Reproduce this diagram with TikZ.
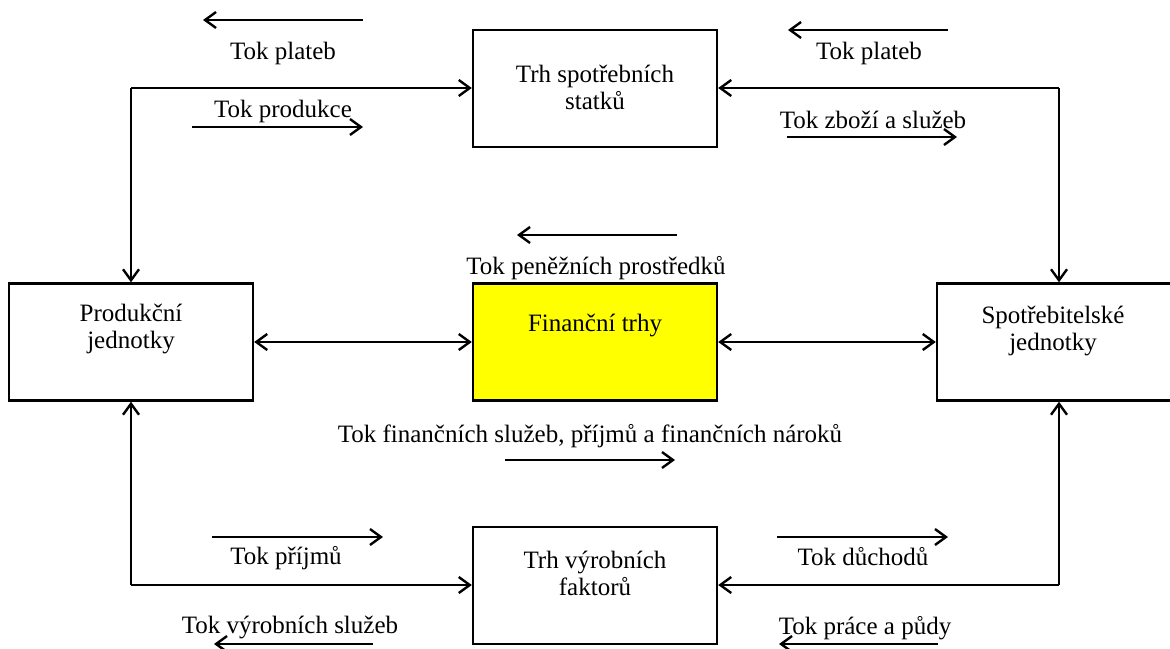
\documentclass[tikz,border=0pt]{standalone}
\usepackage{fontspec}
\setmainfont{Liberation Serif}
\usetikzlibrary{arrows.meta}
\definecolor{finyellow}{RGB}{255,255,0}
\begin{document}
\begin{tikzpicture}[x=0.5pt,y=-0.5pt,
  every node/.style={font=\fontsize{12.5}{13.5}\selectfont},
  box/.style={draw,line width=1.2pt,minimum width=122pt,minimum height=58.5pt,inner sep=0pt},
  lbl/.style={align=center,inner sep=0pt},
  tip/.tip={Straight Barb[length=5.5pt,width=8pt,line width=1.2pt]},
  conn/.style={line width=1.2pt,-tip},
  biconn/.style={line width=1.2pt,tip-tip},
  flow/.style={line width=1.2pt,-tip}]
\useasboundingbox (0,0) rectangle (1170,648);
% boxes
\node[box] (top) at (595,88.5) {};
\node[box] (left) at (131,342) {};
\node[box,fill=finyellow] (fin) at (595,342) {};
\node[box] (right) at (1059,342) {};
\node[box] (bot) at (595,585.5) {};
% box texts
\node[lbl] (ttop) at (595,87) {Trh spotřebních\\statků};
\node[lbl] (tleft) at (131,329) {Produkční\\jednotky};
\node[lbl] (tfin) at (595,325) {Finanční trhy};
\node[lbl] (tright) at (1053,331) {Spotřebitelské\\jednotky};
\node[lbl] (tbot) at (595,573) {Trh výrobních\\faktorů};
% corner coordinates
\coordinate (c1) at (131,88);
\coordinate (c2) at (1059,88);
\coordinate (c3) at (131,585);
\coordinate (c4) at (1059,585);
% main connectors
\draw[conn] (c1) -- (top.west |- c1);
\draw[conn] (c1) -- (left.north);
\draw[conn] (c2) -- (top.east |- c2);
\draw[conn] (c2) -- (right.north);
\draw[conn] (c3) -- (left.south);
\draw[conn] (c3) -- (bot.west |- c3);
\draw[conn] (c4) -- (bot.east |- c4);
\draw[conn] (c4) -- (right.south);
\draw[biconn] (left.east) -- (fin.west);
\draw[biconn] (fin.east) -- (right.west);
% flow labels and arrows
\coordinate (a1s) at (363,20); \coordinate (a1e) at (203,20);
\draw[flow] (a1s) -- (a1e);
\node[lbl] (l1) at (283,53) {Tok plateb};
\node[lbl] (l2) at (283,111) {Tok produkce};
\coordinate (a2s) at (192,127); \coordinate (a2e) at (363,127);
\draw[flow] (a2s) -- (a2e);
\coordinate (a3s) at (948,30); \coordinate (a3e) at (788,30);
\draw[flow] (a3s) -- (a3e);
\node[lbl] (l3) at (869,53) {Tok plateb};
\node[lbl] (l4) at (873,120) {Tok zboží a služeb};
\coordinate (a4s) at (787,137); \coordinate (a4e) at (957,137);
\draw[flow] (a4s) -- (a4e);
\coordinate (a5s) at (677,235); \coordinate (a5e) at (517,235);
\draw[flow] (a5s) -- (a5e);
\node[lbl] (l5) at (596,268) {Tok peněžních prostředků};
\node[lbl] (l6) at (590,436) {Tok finančních služeb, příjmů a finančních nároků};
\coordinate (a6s) at (505,460); \coordinate (a6e) at (675,460);
\draw[flow] (a6s) -- (a6e);
\coordinate (a7s) at (212,537); \coordinate (a7e) at (383,537);
\draw[flow] (a7s) -- (a7e);
\node[lbl] (l7) at (286,558) {Tok příjmů};
\node[lbl] (l8) at (290,627) {Tok výrobních služeb};
\coordinate (a8s) at (373,644); \coordinate (a8e) at (214,644);
\draw[flow] (a8s) -- (a8e);
\coordinate (a9s) at (777,537); \coordinate (a9e) at (948,537);
\draw[flow] (a9s) -- (a9e);
\node[lbl] (l9) at (863,557) {Tok důchodů};
\node[lbl] (l10) at (865,628) {Tok práce a půdy};
\coordinate (a10s) at (938,644); \coordinate (a10e) at (779,644);
\draw[flow] (a10s) -- (a10e);
\end{tikzpicture}
\end{document}
